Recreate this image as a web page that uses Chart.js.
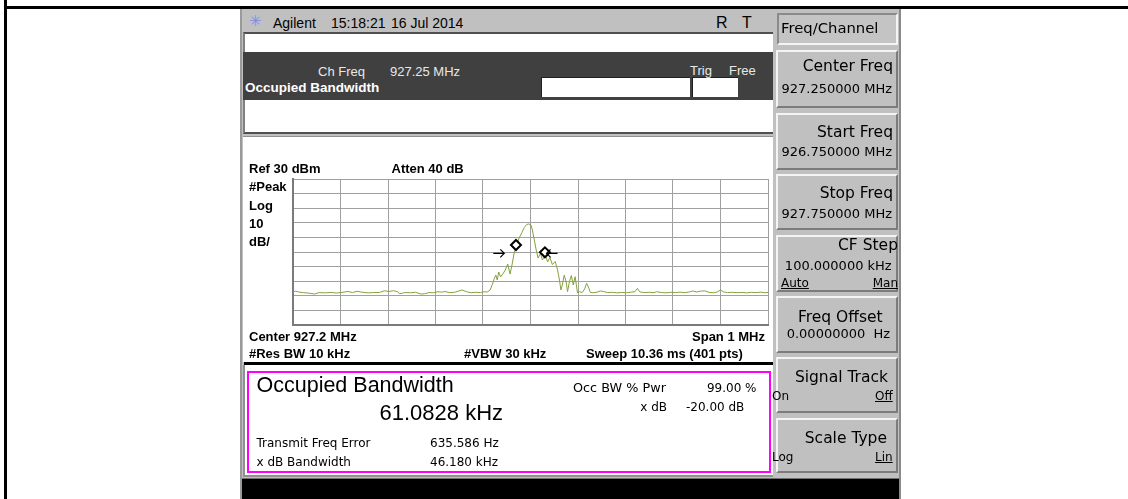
<!DOCTYPE html>
<html>
<head>
<meta charset="utf-8">
<script src="https://cdn.jsdelivr.net/npm/chart.js@4/dist/chart.umd.min.js"></script>
<style>
  html, body { margin: 0; padding: 0; }
  body { width: 1128px; height: 499px; position: relative; overflow: hidden; background: #fff; font-family: "Liberation Sans", Arial, sans-serif; }
  .b { position: absolute; box-sizing: border-box; }
  .t { position: absolute; white-space: nowrap; line-height: 1; }
  .dv { font-family: "DejaVu Sans", sans-serif; }
  .bold { font-weight: bold; font-size: 13px; }
  .key { position: absolute; box-sizing: border-box; background: #c0c0c0; left: 776px; width: 122px;
         border-top: 2px solid #f4f4f4; border-left: 2px solid #f4f4f4; border-bottom: 2px solid #7c7c7c; border-right: 2px solid #7c7c7c; }
  .kt { font-family: "DejaVu Sans", sans-serif; font-size: 15.5px; }
  .kv { font-family: "DejaVu Sans", sans-serif; font-size: 13px; }
  .ks { font-family: "DejaVu Sans", sans-serif; font-size: 12px; }
  .sm { font-family: "DejaVu Sans", sans-serif; font-size: 12px; }
  u { text-decoration-thickness: 1px; text-underline-offset: 1px; }
</style>
</head>
<body>
<!-- page frame -->
<div class="b" style="left:4px;top:0;width:3px;height:499px;background:#000"></div>
<div class="b" style="left:4px;top:6px;width:1124px;height:3px;background:#000"></div>

<!-- instrument screen -->
<div class="b" style="left:240px;top:9px;width:661px;height:490px;background:#c0c0c0;border-left:2px solid #9a9a9a;border-right:2px solid #8a8a8a"></div>

<!-- title bar -->
<div class="t dv" style="left:249px;top:14px;font-size:15px;color:#7b8cf0">✳</div>
<div class="t" style="left:273px;top:16px;font-size:14px">Agilent</div>
<div class="t" style="left:331px;top:16px;font-size:14px">15:18:21</div>
<div class="t" style="left:391px;top:16px;font-size:14px">16 Jul 2014</div>
<div class="t" style="left:716px;top:15px;font-size:16px">R</div>
<div class="t" style="left:742px;top:15px;font-size:16px">T</div>

<!-- white strip + dark band -->
<div class="b" style="left:243px;top:32px;width:530px;height:20px;background:#fff;border-top:2px solid #505050;border-left:2px solid #808080"></div>
<div class="b" style="left:243px;top:52px;width:530px;height:48px;background:#404040"></div>
<div class="b" style="left:541px;top:77px;width:149px;height:20px;background:#fff;border-top:1px solid #202020;border-left:1px solid #202020"></div>
<div class="b" style="left:692px;top:77px;width:46px;height:20px;background:#fff;border-top:1px solid #202020;border-left:1px solid #202020"></div>
<div class="t" style="left:318px;top:64.5px;font-size:13px;color:#e8e8e8">Ch Freq</div>
<div class="t" style="left:390px;top:64.5px;font-size:13px;color:#e8e8e8">927.25 MHz</div>
<div class="t" style="left:690px;top:63.5px;font-size:13px;color:#e8e8e8">Trig</div>
<div class="t" style="left:729px;top:63.5px;font-size:13px;color:#e8e8e8">Free</div>
<div class="t bold" style="left:245px;top:81.3px;color:#fff;font-size:13.5px">Occupied Bandwidth</div>
<div class="b" style="left:243px;top:100px;width:530px;height:34px;background:#fff;border-left:2px solid #808080;border-bottom:2px solid #505050"></div>

<!-- trace window -->
<div class="b" style="left:243px;top:136px;width:530px;height:226px;background:#fff;border-top:1px solid #909090"></div>
<canvas id="spectrum" width="531" height="225" style="position:absolute;left:244px;top:137px"></canvas>
<div class="t bold" style="left:249px;top:162.3px">Ref 30 dBm</div>
<div class="t bold" style="left:391.5px;top:162.3px">Atten 40 dB</div>
<div class="t bold" style="left:249px;top:180.3px">#Peak</div>
<div class="t bold" style="left:249px;top:198.6px">Log</div>
<div class="t bold" style="left:249px;top:217.1px">10</div>
<div class="t bold" style="left:249px;top:235.3px">dB/</div>
<div class="t bold" style="left:249px;top:329.6px">Center 927.2 MHz</div>
<div class="t bold" style="right:363px;top:329.6px">Span 1 MHz</div>
<div class="t bold" style="left:249px;top:346.9px">#Res BW 10 kHz</div>
<div class="t bold" style="left:464px;top:346.9px">#VBW 30 kHz</div>
<div class="t bold" style="left:586px;top:346.9px">Sweep 10.36 ms (401 pts)</div>
<div class="b" style="left:244px;top:362px;width:529px;height:3px;background:#000"></div>

<!-- result box -->
<div class="b" style="left:243px;top:365px;width:530px;height:112px;background:#fff;border-left:2px solid #909090;border-bottom:2px solid #909090"></div>
<div class="b" style="left:247px;top:371px;width:524px;height:102px;background:#fff;border:2px solid #ff00ff"></div>
<div class="t" style="left:256.5px;top:375.3px;font-size:21.5px">Occupied Bandwidth</div>
<div class="t" style="left:379.5px;top:402px;font-size:22px">61.0828 kHz</div>
<div class="t sm" style="left:256.5px;top:437.2px">Transmit Freq Error</div>
<div class="t sm" style="left:430px;top:437.2px">635.586 Hz</div>
<div class="t sm" style="left:256.5px;top:455.7px">x dB Bandwidth</div>
<div class="t sm" style="left:430px;top:455.7px">46.180 kHz</div>
<div class="t sm" style="left:573px;top:381.6px;font-size:12.8px">Occ BW % Pwr</div>
<div class="t sm" style="right:371.5px;top:381.6px">99.00 %</div>
<div class="t sm" style="right:461px;top:401.2px">x dB</div>
<div class="t sm" style="left:686px;top:401.2px">-20.00 dB</div>

<!-- bottom black band -->
<div class="b" style="left:242px;top:478px;width:657px;height:21px;background:#000;border-top:1px solid #707070"></div>

<!-- softkeys -->
<div class="b" style="left:777px;top:13px;width:121px;height:32px;background:#c4c4c4;border-top:2px solid #8a8a8a;border-left:2px solid #8a8a8a;border-bottom:2px solid #f4f4f4;border-right:2px solid #f4f4f4"></div>
<div class="t kt" style="left:781px;top:21.4px;font-size:14.8px">Freq/Channel</div>

<div class="key" style="top:50px;height:58px"></div>
<div class="t kt" style="right:235px;top:58.6px">Center Freq</div>
<div class="t kv" style="right:236px;top:82.4px">927.250000 MHz</div>

<div class="key" style="top:113px;height:57px"></div>
<div class="t kt" style="right:235px;top:124.9px">Start Freq</div>
<div class="t kv" style="right:236px;top:145.3px">926.750000 MHz</div>

<div class="key" style="top:174px;height:56px"></div>
<div class="t kt" style="right:235px;top:186.4px">Stop Freq</div>
<div class="t kv" style="right:236px;top:206.9px">927.750000 MHz</div>

<div class="key" style="top:235px;height:57px"></div>
<div class="t kt" style="right:230px;top:238.4px">CF Step</div>
<div class="t kv" style="right:236.3px;top:258.6px">100.000000 kHz</div>
<div class="t ks" style="left:781px;top:276.6px"><u>Auto</u></div>
<div class="t ks" style="right:230px;top:276.6px"><u>Man</u></div>

<div class="key" style="top:296px;height:57px"></div>
<div class="t kt" style="right:245.3px;top:309.9px">Freq Offset</div>
<div class="t kv" style="left:786.7px;top:326.6px">0.00000000&nbsp;&nbsp;Hz</div>

<div class="key" style="top:357px;height:56px"></div>
<div class="t kt" style="right:240px;top:369.9px">Signal Track</div>
<div class="t ks" style="left:772px;top:390.1px">On</div>
<div class="t ks" style="right:235.3px;top:390.1px"><u>Off</u></div>

<div class="key" style="top:418px;height:55px"></div>
<div class="t kt" style="right:241px;top:431.4px">Scale Type</div>
<div class="t ks" style="left:772px;top:451.1px">Log</div>
<div class="t ks" style="right:235.3px;top:451.1px"><u>Lin</u></div>

<script>
// grid: 10 divisions each way, 100 kHz and 10 dB per division
const gridFreqs = [926.75, 926.85, 926.95, 927.05, 927.15, 927.25, 927.35, 927.45, 927.55, 927.65, 927.75];
const refLevel = 30;
const bottomLevel = -70;

// trace (MHz, dBm)
const traceFreqs = [
  926.750, 926.755, 926.762, 926.772, 926.782, 926.795, 926.805, 926.818, 926.830, 926.842,
  926.855, 926.866, 926.875, 926.885, 926.895, 926.908, 926.920, 926.932, 926.942, 926.952,
  926.962, 926.970, 926.975, 926.985, 926.997, 927.008, 927.020, 927.027, 927.036, 927.046,
  927.055, 927.063, 927.070, 927.080, 927.090, 927.100, 927.106, 927.115, 927.125, 927.135,
  927.145, 927.152, 927.159, 927.165, 927.170, 927.174, 927.177, 927.180, 927.183, 927.187,
  927.193, 927.197, 927.202, 927.207, 927.211, 927.216, 927.221, 927.226, 927.232, 927.237,
  927.242, 927.246, 927.251, 927.254, 927.258, 927.262, 927.266, 927.271, 927.275, 927.281,
  927.286, 927.291, 927.296, 927.302, 927.307, 927.311, 927.314, 927.317, 927.321, 927.325,
  927.328, 927.332, 927.336, 927.340, 927.344, 927.349, 927.353, 927.359, 927.364, 927.368,
  927.372, 927.376, 927.382, 927.390, 927.397, 927.403, 927.412, 927.422, 927.432, 927.442,
  927.452, 927.462, 927.470, 927.475, 927.480, 927.490, 927.500, 927.510, 927.515, 927.525,
  927.535, 927.545, 927.555, 927.565, 927.575, 927.585, 927.592, 927.600, 927.608, 927.617,
  927.625, 927.635, 927.643, 927.650, 927.656, 927.665, 927.675, 927.685, 927.695, 927.705,
  927.715, 927.725, 927.735, 927.743, 927.750
];
const traceLevels = [
  -47.6, -46.8, -47.4, -47.9, -48.1, -48.8, -47.8, -48.0, -47.7, -48.1,
  -47.6, -47.0, -47.8, -46.9, -47.5, -48.0, -47.8, -47.7, -46.6, -47.0,
  -46.5, -47.2, -48.6, -47.8, -47.9, -47.6, -48.8, -48.6, -47.8, -47.9,
  -47.2, -47.5, -47.1, -47.8, -47.6, -46.6, -46.0, -47.2, -47.9, -47.6,
  -47.8, -47.2, -47.4, -46.0, -41.9, -38.0, -35.8, -39.2, -33.7, -37.1,
  -34.4, -32.3, -28.2, -35.1, -28.9, -20.0, -15.2, -10.4, -6.6, -3.2,
  -1.2, -0.8, -1.5, -4.9, -11.8, -18.6, -24.1, -21.0, -25.5, -22.1,
  -26.8, -23.8, -28.6, -26.5, -32.3, -39.2, -46.0, -42.6, -35.8, -40.5,
  -47.1, -40.3, -36.1, -42.6, -36.9, -48.1, -47.2, -47.7, -45.3, -41.4,
  -44.0, -47.7, -47.9, -47.5, -46.7, -47.0, -47.8, -47.6, -48.0, -47.7,
  -47.9, -47.5, -47.2, -44.9, -47.3, -47.8, -47.6, -47.9, -47.2, -47.7,
  -48.0, -47.6, -47.8, -47.5, -47.9, -47.3, -46.7, -47.4, -46.8, -46.6,
  -47.6, -47.9, -47.4, -46.0, -47.3, -47.8, -47.6, -47.9, -47.7, -48.0,
  -47.6, -47.8, -47.5, -47.9, -47.7
];

// occupied bandwidth edge markers (diamonds)
const markerFreqs = [927.2194, 927.2804];
const markerLevels = [-15.2, -20.2];

// x dB arrows: tip frequency and direction (+1 points right, -1 points left)
const arrowFreqs = [927.1948, 927.2838];
const arrowDirs = [1, -1];
const arrowLevel = -20.9;

const arrowPlugin = {
  id: 'xdbArrows',
  afterDatasetsDraw(chart) {
    const { ctx, scales: { x, y } } = chart;
    ctx.save();
    ctx.strokeStyle = '#000';
    ctx.lineWidth = 1.2;
    arrowFreqs.forEach((f, i) => {
      const tx = x.getPixelForValue(f);
      const ty = y.getPixelForValue(arrowLevel);
      const d = arrowDirs[i];
      ctx.beginPath();
      ctx.moveTo(tx - d * 11, ty);
      ctx.lineTo(tx, ty);
      ctx.moveTo(tx - d * 4, ty - 4);
      ctx.lineTo(tx, ty);
      ctx.lineTo(tx - d * 4, ty + 4);
      ctx.stroke();
    });
    ctx.restore();
  }
};

const ctx = document.getElementById('spectrum').getContext('2d');
new Chart(ctx, {
  type: 'line',
  data: {
    datasets: [
      {
        data: traceFreqs.map((f, i) => ({ x: f, y: traceLevels[i] })),
        borderColor: '#84a23c',
        borderWidth: 1,
        pointRadius: 0,
        tension: 0,
        order: 2
      },
      {
        data: markerFreqs.map((f, i) => ({ x: f, y: markerLevels[i] })),
        showLine: false,
        pointStyle: 'rectRot',
        pointRadius: 5,
        borderColor: '#000',
        borderWidth: 2,
        backgroundColor: '#fff',
        order: 1
      }
    ]
  },
  options: {
    responsive: false,
    animation: false,
    devicePixelRatio: 1,
    layout: { padding: { left: 49, right: 0, top: 42, bottom: 37 } },
    plugins: { legend: { display: false }, tooltip: { enabled: false } },
    scales: {
      x: {
        type: 'linear',
        min: gridFreqs[0],
        max: gridFreqs[gridFreqs.length - 1],
        afterBuildTicks: s => { s.ticks = gridFreqs.map(v => ({ value: v })); },
        afterFit: s => { s.height = 0; },
        ticks: { display: false },
        grid: { color: '#a0a0a0', lineWidth: 1, drawTicks: false },
        border: { color: '#7a7a7a', width: 2 }
      },
      y: {
        min: bottomLevel,
        max: refLevel,
        afterFit: s => { s.width = 0; },
        ticks: { display: false, stepSize: 10 },
        grid: { color: '#a0a0a0', lineWidth: 1, drawTicks: false },
        border: { color: '#7a7a7a', width: 2 }
      }
    }
  },
  plugins: [arrowPlugin]
});
</script>
</body>
</html>
